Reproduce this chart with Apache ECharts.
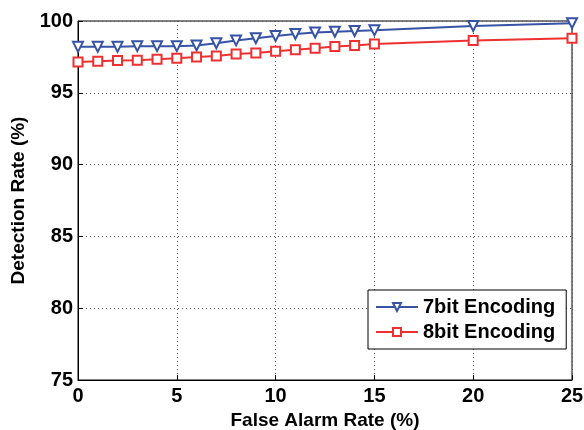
<!DOCTYPE html>
<html><head><meta charset="utf-8">
<script src="https://cdn.jsdelivr.net/npm/echarts@6/dist/echarts.min.js"></script>
<style>html,body{margin:0;padding:0;background:#fff}#c{width:584px;height:430px}</style>
</head><body><div id="c"></div>
<script>
const xValues = [0,1,2,3,4,5,6,7,8,9,10,11,12,13,14,15,20,25];
const enc7 = [98.2,98.2,98.2,98.25,98.25,98.25,98.3,98.45,98.65,98.8,98.95,99.1,99.2,99.25,99.3,99.35,99.65,99.85];
const enc8 = [97.15,97.2,97.25,97.27,97.33,97.4,97.5,97.57,97.7,97.78,97.9,98.0,98.1,98.22,98.3,98.4,98.65,98.8];
const seriesNames = ['7bit Encoding','8bit Encoding'];
const xTicks = [0,5,10,15,20,25];
const yTicks = [75,80,85,90,95,100];

const blue = '#3653a5', red = '#ee3030';
const font = 'Liberation Sans, Arial, sans-serif';
const chart = echarts.init(document.getElementById('c'));
const pair = (arr) => xValues.map((x,i)=>[x,arr[i]]);
chart.setOption({
  animation:false,
  grid:{left:78,right:12,top:21,bottom:50,show:true,borderColor:'#000',borderWidth:1,backgroundColor:'transparent',
    containLabel:false,outerBoundsMode:'none'},
  xAxis:{type:'value',min:xTicks[0],max:xTicks[xTicks.length-1],interval:5,
    name:'False Alarm Rate (%)',nameLocation:'middle',nameGap:31,
    nameTextStyle:{fontFamily:font,fontWeight:'bold',fontSize:19,color:'#000'},
    axisLine:{show:true,onZero:false,lineStyle:{color:'#000'}},
    axisTick:{show:true,inside:true,length:5,lineStyle:{color:'#000'}},
    axisLabel:{fontFamily:font,fontWeight:'bold',fontSize:20,color:'#000',margin:6},
    splitLine:{show:true,lineStyle:{color:'#555',type:[1,3]}}},
  yAxis:{type:'value',min:yTicks[0],max:yTicks[yTicks.length-1],interval:5,
    name:'Detection Rate (%)',nameLocation:'middle',nameGap:50,
    nameTextStyle:{fontFamily:font,fontWeight:'bold',fontSize:19,color:'#000'},
    axisLine:{show:true,lineStyle:{color:'#000'}},
    axisTick:{show:true,inside:true,length:5,lineStyle:{color:'#000'}},
    axisLabel:{fontFamily:font,fontWeight:'bold',fontSize:20,color:'#000',margin:5},
    splitLine:{show:true,lineStyle:{color:'#555',type:[1,3]}}},
  legend:{left:368,top:290,orient:'vertical',backgroundColor:'#fff',borderColor:'#000',borderWidth:1,
    padding:[7,11,7,7],itemGap:5,itemWidth:42,itemHeight:10,
    textStyle:{fontFamily:font,fontWeight:'bold',fontSize:20,color:'#000'},data:seriesNames},
  series:[
    {name:seriesNames[0],type:'line',data:pair(enc7),symbol:'triangle',symbolRotate:180,symbolSize:10,
     lineStyle:{color:blue,width:2},itemStyle:{color:'#fff',borderColor:blue,borderWidth:2}},
    {name:seriesNames[1],type:'line',data:pair(enc8),symbol:'rect',symbolSize:9,
     lineStyle:{color:red,width:2},itemStyle:{color:'#fff',borderColor:red,borderWidth:2}}
  ]
});
</script></body></html>
